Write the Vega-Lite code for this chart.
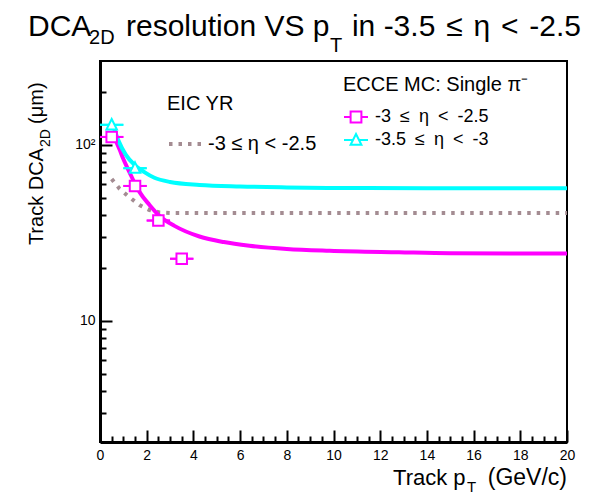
{
  "$schema": "https://vega.github.io/schema/vega-lite/v6.json",
  "autosize": "none",
  "width": 467,
  "height": 381,
  "padding": {"left": 100, "top": 61, "right": 38, "bottom": 52},
  "background": "white",
  "config": {
    "view": {"stroke": "black", "strokeWidth": 2},
    "font": "Liberation Sans",
    "text": {"font": "Liberation Sans", "color": "black"}
  },
  "datasets": {
    "points": [
      {"series": "-3 ≤ η < -2.5", "pt": 0.5, "dca": 111, "ptlo": 0, "pthi": 1},
      {"series": "-3 ≤ η < -2.5", "pt": 1.5, "dca": 58.4, "ptlo": 1, "pthi": 2},
      {"series": "-3 ≤ η < -2.5", "pt": 2.5, "dca": 37.1, "ptlo": 2, "pthi": 3},
      {"series": "-3 ≤ η < -2.5", "pt": 3.5, "dca": 22.5, "ptlo": 3, "pthi": 4},
      {"series": "-3.5 ≤ η < -3", "pt": 0.5, "dca": 130, "ptlo": 0, "pthi": 1},
      {"series": "-3.5 ≤ η < -3", "pt": 1.5, "dca": 73.7, "ptlo": 1, "pthi": 2}
    ],
    "fits": [
      {"series": "-3 ≤ η < -2.5", "pt": 0.55, "dca": 118},
      {"series": "-3 ≤ η < -2.5", "pt": 0.7, "dca": 104},
      {"series": "-3 ≤ η < -2.5", "pt": 0.84, "dca": 94},
      {"series": "-3 ≤ η < -2.5", "pt": 1.0, "dca": 83},
      {"series": "-3 ≤ η < -2.5", "pt": 1.26, "dca": 70},
      {"series": "-3 ≤ η < -2.5", "pt": 1.5, "dca": 60},
      {"series": "-3 ≤ η < -2.5", "pt": 1.69, "dca": 54},
      {"series": "-3 ≤ η < -2.5", "pt": 2.12, "dca": 45.5},
      {"series": "-3 ≤ η < -2.5", "pt": 2.55, "dca": 39.4},
      {"series": "-3 ≤ η < -2.5", "pt": 3.19, "dca": 34.6},
      {"series": "-3 ≤ η < -2.5", "pt": 4.26, "dca": 30.1},
      {"series": "-3 ≤ η < -2.5", "pt": 5.3, "dca": 28.0},
      {"series": "-3 ≤ η < -2.5", "pt": 6.4, "dca": 26.7},
      {"series": "-3 ≤ η < -2.5", "pt": 8, "dca": 25.6},
      {"series": "-3 ≤ η < -2.5", "pt": 9.83, "dca": 25.0},
      {"series": "-3 ≤ η < -2.5", "pt": 12.8, "dca": 24.5},
      {"series": "-3 ≤ η < -2.5", "pt": 15, "dca": 24.2},
      {"series": "-3 ≤ η < -2.5", "pt": 20, "dca": 24.1},
      {"series": "-3.5 ≤ η < -3", "pt": 0.55, "dca": 130},
      {"series": "-3.5 ≤ η < -3", "pt": 0.8, "dca": 105},
      {"series": "-3.5 ≤ η < -3", "pt": 1.1, "dca": 88},
      {"series": "-3.5 ≤ η < -3", "pt": 1.48, "dca": 77},
      {"series": "-3.5 ≤ η < -3", "pt": 1.9, "dca": 70},
      {"series": "-3.5 ≤ η < -3", "pt": 2.33, "dca": 65},
      {"series": "-3.5 ≤ η < -3", "pt": 3, "dca": 61.5},
      {"series": "-3.5 ≤ η < -3", "pt": 4.26, "dca": 59.2},
      {"series": "-3.5 ≤ η < -3", "pt": 6, "dca": 58},
      {"series": "-3.5 ≤ η < -3", "pt": 8, "dca": 57.3},
      {"series": "-3.5 ≤ η < -3", "pt": 9.83, "dca": 56.9},
      {"series": "-3.5 ≤ η < -3", "pt": 14, "dca": 56.7},
      {"series": "-3.5 ≤ η < -3", "pt": 20, "dca": 56.6}
    ],
    "yr": [
      {"req": "-3 ≤ η < -2.5", "pt": 0.5, "dca": 64},
      {"req": "-3 ≤ η < -2.5", "pt": 0.84, "dca": 56.2},
      {"req": "-3 ≤ η < -2.5", "pt": 1.26, "dca": 50.4},
      {"req": "-3 ≤ η < -2.5", "pt": 1.69, "dca": 45.5},
      {"req": "-3 ≤ η < -2.5", "pt": 2.12, "dca": 42.6},
      {"req": "-3 ≤ η < -2.5", "pt": 2.55, "dca": 41.3},
      {"req": "-3 ≤ η < -2.5", "pt": 3, "dca": 41.0},
      {"req": "-3 ≤ η < -2.5", "pt": 5, "dca": 40.9},
      {"req": "-3 ≤ η < -2.5", "pt": 10, "dca": 40.9},
      {"req": "-3 ≤ η < -2.5", "pt": 20, "dca": 40.9}
    ]
  },
  "resolve": {"axis": {"x": "independent", "y": "independent"}},
  "layer": [
    {
      "data": {"name": "yr"},
      "mark": {"type": "line", "color": "#a48c92", "strokeWidth": 4, "clip": true},
      "encoding": {
        "x": {"field": "pt", "type": "quantitative",
          "scale": {"domain": [0, 20], "nice": false, "zero": false},
          "axis": {"orient": "bottom", "values": [0.5,1,1.5,2.5,3,3.5,4.5,5,5.5,6.5,7,7.5,8.5,9,9.5,10.5,11,11.5,12.5,13,13.5,14.5,15,15.5,16.5,17,17.5,18.5,19,19.5],
            "tickSize": -6, "tickWidth": 2, "tickColor": "black", "labels": false, "domain": false, "grid": false, "title": null}},
        "y": {"field": "dca", "type": "quantitative",
          "scale": {"type": "log", "domain": [2.04, 300], "nice": false},
          "axis": {"orient": "left", "values": [3,4,5,6,7,8,9,20,30,40,50,60,70,80,90,200],
            "tickSize": -6, "tickWidth": 2, "tickColor": "black", "labels": false, "domain": false, "grid": false, "title": null}},
        "strokeDash": {"field": "req", "type": "nominal",
          "scale": {"range": [[3.5, 6]]},
          "legend": {"orient": "none", "legendX": 67, "legendY": 33, "title": "EIC YR",
            "titleFontSize": 20, "titleFontWeight": "normal", "titleFont": "Liberation Sans", "titleColor": "black",
            "titlePadding": 12, "labelFontSize": 20, "labelFont": "Liberation Sans", "labelColor": "black",
            "symbolType": "stroke", "symbolSize": 1024, "symbolStrokeWidth": 4, "symbolDash": [3.5, 6],
            "symbolStrokeColor": "#a48c92", "labelOffset": 5, "padding": 0}}
      }
    },
    {
      "data": {"name": "fits"},
      "mark": {"type": "line", "strokeWidth": 4, "interpolate": "monotone", "clip": true},
      "encoding": {
        "x": {"field": "pt", "type": "quantitative",
          "axis": {"orient": "bottom", "values": [0,2,4,6,8,10,12,14,16,18,20], "tickSize": -12, "tickWidth": 2,
            "tickColor": "black", "domainWidth": 3, "domainColor": "black", "labelFontSize": 14,
            "labelFont": "Liberation Sans", "labelColor": "black", "labelPadding": 18, "labelFlush": false,
            "grid": false, "title": null}},
        "y": {"field": "dca", "type": "quantitative",
          "axis": {"orient": "left", "values": [10, 100], "labelExpr": "datum.value == 100 ? '10²' : '10'",
            "tickSize": -12, "tickWidth": 2, "tickColor": "black", "domainWidth": 3, "domainColor": "black",
            "labelFontSize": 14, "labelFont": "Liberation Sans", "labelColor": "black", "labelPadding": 17,
            "grid": false, "title": null}},
        "color": {"field": "series", "type": "nominal",
          "scale": {"domain": ["-3 ≤ η < -2.5", "-3.5 ≤ η < -3"], "range": ["#ff00ff", "#00ffff"]},
          "legend": {"orient": "none", "legendX": 243, "legendY": 14, "title": "ECCE MC: Single π⁻",
            "titleFontSize": 20, "titleFontWeight": "normal", "titleFont": "Liberation Sans", "titleColor": "black",
            "titleLimit": 400, "labelLimit": 300,
            "titlePadding": 9, "labelFontSize": 18, "labelFont": "Liberation Sans", "labelColor": "black",
            "symbolSize": 576, "symbolStrokeWidth": 2, "symbolFillColor": "white", "labelOffset": 6, "rowPadding": -2, "padding": 0,
            "labelExpr": "replace(datum.label, regexp(' ', 'g'), '\u2002')"}}
      }
    },
    {
      "data": {"name": "points"},
      "mark": {"type": "rule", "strokeWidth": 2},
      "encoding": {
        "x": {"field": "ptlo", "type": "quantitative", "axis": null},
        "x2": {"field": "pthi"},
        "y": {"field": "dca", "type": "quantitative", "axis": null},
        "color": {"field": "series", "type": "nominal"}
      }
    },
    {
      "data": {"name": "points"},
      "mark": {"type": "point", "filled": false, "fill": "white", "fillOpacity": 1, "strokeWidth": 2, "size": 545, "opacity": 1},
      "encoding": {
        "x": {"field": "pt", "type": "quantitative", "axis": null},
        "y": {"field": "dca", "type": "quantitative", "axis": null},
        "color": {"field": "series", "type": "nominal"},
        "shape": {"field": "series", "type": "nominal",
          "scale": {"domain": ["-3 ≤ η < -2.5", "-3.5 ≤ η < -3"],
            "range": ["M-1,0H-0.45M0.45,0H1M-0.45,-0.45H0.45V0.45H-0.45Z", "M-1,0H-0.25M0.25,0H1M0,-0.5L0.45,0.4H-0.45Z"]},
          "legend": null}
      }
    },
    {
      "data": {"values": [{}]},
      "mark": {"type": "text", "align": "left", "baseline": "alphabetic", "fontSize": 30},
      "encoding": {"x": {"datum": -3.083, "type": "quantitative", "axis": null}, "y": {"datum": 416, "type": "quantitative", "axis": null}, "text": {"value": "DCA"}}
    },
    {
      "data": {"values": [{}]},
      "mark": {"type": "text", "align": "left", "baseline": "alphabetic", "fontSize": 20},
      "encoding": {"x": {"datum": -0.47, "type": "quantitative", "axis": null}, "y": {"datum": 375, "type": "quantitative", "axis": null}, "text": {"value": "2D"}}
    },
    {
      "data": {"values": [{}]},
      "mark": {"type": "text", "align": "left", "baseline": "alphabetic", "fontSize": 30},
      "encoding": {"x": {"datum": 1.113, "type": "quantitative", "axis": null}, "y": {"datum": 416, "type": "quantitative", "axis": null}, "text": {"value": "resolution VS p"}}
    },
    {
      "data": {"values": [{}]},
      "mark": {"type": "text", "align": "left", "baseline": "alphabetic", "fontSize": 20},
      "encoding": {"x": {"datum": 9.85, "type": "quantitative", "axis": null}, "y": {"datum": 337.6, "type": "quantitative", "axis": null}, "text": {"value": "T"}}
    },
    {
      "data": {"values": [{}]},
      "mark": {"type": "text", "align": "left", "baseline": "alphabetic", "fontSize": 30},
      "encoding": {"x": {"datum": 10.79, "type": "quantitative", "axis": null}, "y": {"datum": 416, "type": "quantitative", "axis": null}, "text": {"value": "in -3.5 \u200a≤ \u200aη \u200a< \u200a-2.5"}}
    },
    {
      "data": {"values": [{}]},
      "mark": {"type": "text", "align": "left", "baseline": "alphabetic", "fontSize": 20, "angle": 270},
      "encoding": {"x": {"datum": -2.44, "type": "quantitative", "axis": null}, "y": {"datum": 26.9, "type": "quantitative", "axis": null}, "text": {"value": "Track DCA"}}
    },
    {
      "data": {"values": [{}]},
      "mark": {"type": "text", "align": "left", "baseline": "alphabetic", "fontSize": 14, "angle": 270},
      "encoding": {"x": {"datum": -2.14, "type": "quantitative", "axis": null}, "y": {"datum": 97.2, "type": "quantitative", "axis": null}, "text": {"value": "2D"}}
    },
    {
      "data": {"values": [{}]},
      "mark": {"type": "text", "align": "left", "baseline": "alphabetic", "fontSize": 20, "angle": 270},
      "encoding": {"x": {"datum": -2.44, "type": "quantitative", "axis": null}, "y": {"datum": 131.5, "type": "quantitative", "axis": null}, "text": {"value": "(μm)"}}
    },
    {
      "data": {"values": [{}]},
      "mark": {"type": "text", "align": "left", "baseline": "alphabetic", "fontSize": 22},
      "encoding": {"x": {"datum": 12.55, "type": "quantitative", "axis": null}, "y": {"datum": 1.16, "type": "quantitative", "axis": null}, "text": {"value": "Track p"}}
    },
    {
      "data": {"values": [{}]},
      "mark": {"type": "text", "align": "left", "baseline": "alphabetic", "fontSize": 15},
      "encoding": {"x": {"datum": 15.72, "type": "quantitative", "axis": null}, "y": {"datum": 1.06, "type": "quantitative", "axis": null}, "text": {"value": "T"}}
    },
    {
      "data": {"values": [{}]},
      "mark": {"type": "text", "align": "right", "baseline": "alphabetic", "fontSize": 23},
      "encoding": {"x": {"datum": 20, "type": "quantitative", "axis": null}, "y": {"datum": 1.16, "type": "quantitative", "axis": null}, "text": {"value": "(GeV/c)"}}
    }
  ]
}
